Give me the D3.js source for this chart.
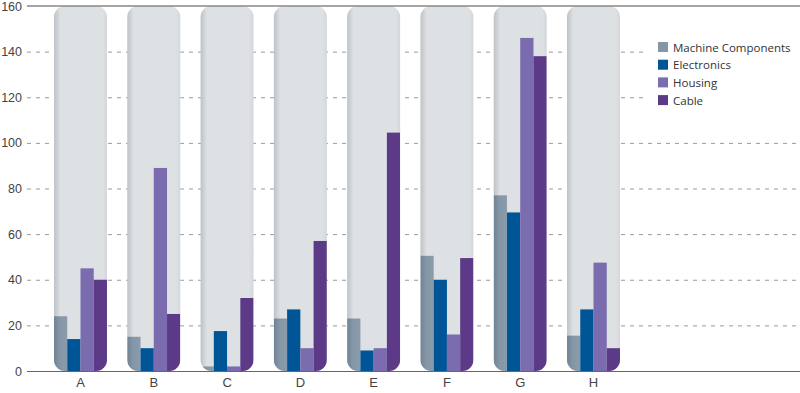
<!DOCTYPE html>
<html>
<head>
<meta charset="utf-8">
<script src="https://cdn.jsdelivr.net/npm/d3@7"></script>
<style>
  body { margin: 0; background: #fff; }
  svg { font-family: "Open Sans", sans-serif; }
  .tick text { fill: #444; font-size: 12.5px; }
</style>
</head>
<body>
<svg id="chart" width="800" height="393"></svg>
<script>
(function() {
    // data
    const categories = ["A", "B", "C", "D", "E", "F", "G", "H"]
    const seriesNames = ["Machine Components", "Electronics", "Housing", "Cable"]
    const machineComponents = [24, 15, 2, 23, 23, 50.5, 77, 15.5]
    const electronics = [14, 10, 17.5, 27, 9, 40, 69.5, 27]
    const housing = [45, 89, 2, 10, 10, 16, 146, 47.5]
    const cable = [40, 25, 32, 57, 104.5, 49.5, 138, 10]
    const yTicks = [0, 20, 40, 60, 80, 100, 120, 140, 160]
    const colors = ["#8597a7", "#005596", "#7b6baf", "#5c3a88"]

    const series = [machineComponents, electronics, housing, cable]
    const data = categories.map((c, i) => ({
        name: c,
        values: series.map((s, k) => ({ key: seriesNames[k], value: s[i] }))
    }))

    const left = 27, right = 800, top = 6, bottom = 371

    var x = d3.scaleBand()
        .domain(categories)
        .range([54, 620])
        .paddingInner(0.277)
        .paddingOuter(0)

    var x1 = d3.scaleBand()
        .domain(seriesNames)
        .range([0, x.bandwidth()])

    var y = d3.scaleLinear()
        .domain([0, 160])
        .range([bottom, top])

    var svg = d3.select("#chart")
    var defs = svg.append("defs")

    //shading for the pill backgrounds
    var pillGrad = defs.append("linearGradient").attr("id", "pillGrad")
    pillGrad.append("stop").attr("offset", "0%").attr("stop-color", "#bcc2c7")
    pillGrad.append("stop").attr("offset", "12%").attr("stop-color", "#dde1e4")
    pillGrad.append("stop").attr("offset", "92%").attr("stop-color", "#dde1e4")
    pillGrad.append("stop").attr("offset", "100%").attr("stop-color", "#d3d7db")

    var mcGrad = defs.append("linearGradient").attr("id", "mcGrad")
    mcGrad.append("stop").attr("offset", "0%").attr("stop-color", "#708395")
    mcGrad.append("stop").attr("offset", "45%").attr("stop-color", "#8597a7")
    mcGrad.append("stop").attr("offset", "100%").attr("stop-color", "#8a9cab")

    categories.forEach((c, i) => {
        defs.append("clipPath").attr("id", "clip" + i)
            .append("rect")
            .attr("x", x(c)).attr("y", top)
            .attr("width", x.bandwidth()).attr("height", bottom - top)
            .attr("rx", 11).attr("ry", 11)
    })

    //grid lines (behind the pills)
    var grid = svg.append("g")
        .attr("transform", `translate(${left},0)`)
        .call(d3.axisLeft(y).tickValues(yTicks).tickSize(-(right - left)).tickPadding(5))
        .call(g => g.select(".domain").remove())
        .call(g => g.selectAll(".tick line")
            .attr("stroke", "#9a9a9a")
            .attr("stroke-dasharray", d => (d === 0 || d === 160) ? null : "4,5"))
        .call(g => g.selectAll(".tick text").attr("x", -5))
    grid.selectAll(".tick").filter(d => d === 0 || d === 160).select("line").remove()

    //pills
    var pills = svg.append("g")
    pills.selectAll("rect")
        .data(data)
        .join("rect")
            .attr("x", d => x(d.name))
            .attr("y", top)
            .attr("width", x.bandwidth())
            .attr("height", bottom - top)
            .attr("rx", 11).attr("ry", 11)
            .attr("fill", "url(#pillGrad)")

    var groups = svg.append("g")
        .selectAll("g")
        .data(data)
        .join("g")
            .attr("clip-path", (d, i) => `url(#clip${i})`)

    groups.selectAll("rect.bar")
        .data(d => d.values.map(v => ({ cat: d.name, key: v.key, value: v.value })))
        .join("rect")
            .attr("class", "bar")
            .attr("x", d => x(d.cat) + x1(d.key))
            .attr("y", d => y(d.value))
            .attr("width", x1.bandwidth())
            .attr("height", d => y(0) - y(d.value))
            .attr("fill", (d, i) => i === 0 ? "url(#mcGrad)" : colors[i])

    //top and base lines
    svg.append("line")
        .attr("x1", left).attr("x2", right)
        .attr("y1", y(160)).attr("y2", y(160))
        .attr("stroke", "#8a8684").attr("stroke-width", 1.5)
    svg.append("line")
        .attr("x1", left).attr("x2", right)
        .attr("y1", y(0) + 0.5).attr("y2", y(0) + 0.5)
        .attr("stroke", "#666").attr("stroke-width", 1.2)

    //category labels
    svg.append("g")
        .attr("transform", `translate(0,${bottom})`)
        .call(d3.axisBottom(x).tickSize(0).tickPadding(7))
        .call(g => g.select(".domain").remove())
        .call(g => g.selectAll(".tick text").attr("fill", "#333").style("font-size", "13px"))

    //legend with a white box over the grid
    var legend = svg.append("g").attr("transform", "translate(658,42)")
    legend.append("rect")
        .attr("x", -10).attr("y", -6)
        .attr("width", 152).attr("height", 76)
        .attr("fill", "#fff")
    var items = legend.selectAll("g")
        .data(seriesNames)
        .join("g")
            .attr("transform", (d, i) => `translate(0,${i * 17.7})`)
    items.append("rect")
        .attr("width", 10).attr("height", 10)
        .attr("fill", (d, i) => colors[i])
    items.append("text")
        .attr("x", 15).attr("y", 9.5)
        .attr("fill", "#333")
        .style("font-size", "11.5px")
        .text(d => d)
})();
</script>
</body>
</html>
